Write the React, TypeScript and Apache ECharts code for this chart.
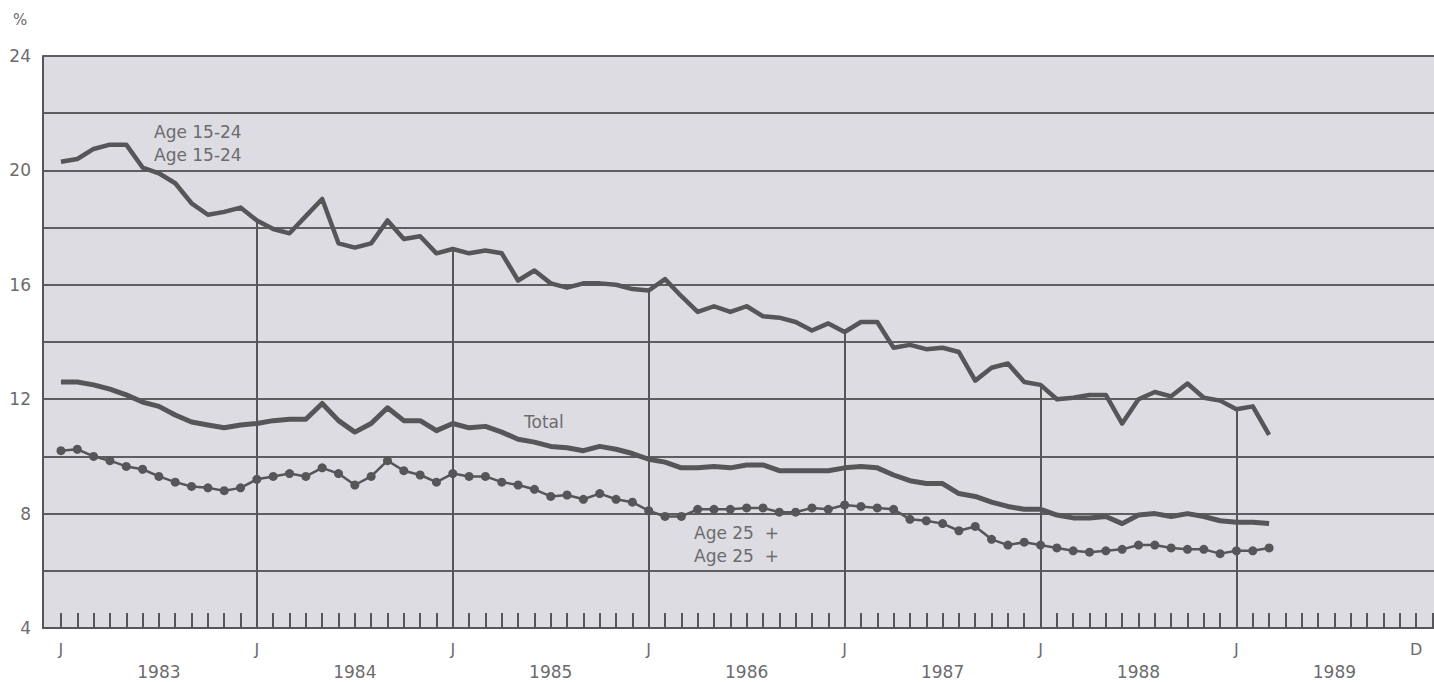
import React, { useEffect, useRef } from "react";
import * as echarts from "echarts";

// Monthly unemployment rates, Jan 1983 (index 0) to Mar 1989 (index 74)
const age1524: number[] = [
  20.3, 20.4, 20.75, 20.9, 20.9, 20.1, 19.9, 19.55, 18.85, 18.45, 18.55, 18.7,
  18.25, 17.95, 17.8, 18.4, 19.0, 17.45, 17.3, 17.45, 18.25, 17.6, 17.7, 17.1,
  17.25, 17.1, 17.2, 17.1, 16.15, 16.5, 16.05, 15.9, 16.05, 16.05, 16.0, 15.85,
  15.8, 16.2, 15.6, 15.05, 15.25, 15.05, 15.25, 14.9, 14.85, 14.7, 14.4, 14.65,
  14.35, 14.7, 14.7, 13.8, 13.9, 13.75, 13.8, 13.65, 12.65, 13.1, 13.25, 12.6,
  12.5, 12.0, 12.05, 12.15, 12.15, 11.15, 12.0, 12.25, 12.1, 12.55, 12.05, 11.95,
  11.65, 11.75, 10.75,
];
const total: number[] = [
  12.6, 12.6, 12.5, 12.35, 12.15, 11.9, 11.75, 11.45, 11.2, 11.1, 11.0, 11.1,
  11.15, 11.25, 11.3, 11.3, 11.85, 11.25, 10.85, 11.15, 11.7, 11.25, 11.25, 10.9,
  11.15, 11.0, 11.05, 10.85, 10.6, 10.5, 10.35, 10.3, 10.2, 10.35, 10.25, 10.1,
  9.9, 9.8, 9.6, 9.6, 9.65, 9.6, 9.7, 9.7, 9.5, 9.5, 9.5, 9.5,
  9.6, 9.65, 9.6, 9.35, 9.15, 9.05, 9.05, 8.7, 8.6, 8.4, 8.25, 8.15,
  8.15, 7.95, 7.85, 7.85, 7.9, 7.65, 7.95, 8.0, 7.9, 8.0, 7.9, 7.75,
  7.7, 7.7, 7.65,
];
const age25plus: number[] = [
  10.2, 10.25, 10.0, 9.85, 9.65, 9.55, 9.3, 9.1, 8.95, 8.9, 8.8, 8.9,
  9.2, 9.3, 9.4, 9.3, 9.6, 9.4, 9.0, 9.3, 9.85, 9.5, 9.35, 9.1,
  9.4, 9.3, 9.3, 9.1, 9.0, 8.85, 8.6, 8.65, 8.5, 8.7, 8.5, 8.4,
  8.1, 7.9, 7.9, 8.15, 8.15, 8.15, 8.2, 8.2, 8.05, 8.05, 8.2, 8.15,
  8.3, 8.25, 8.2, 8.15, 7.8, 7.75, 7.65, 7.4, 7.55, 7.1, 6.9, 7.0,
  6.9, 6.8, 6.7, 6.65, 6.7, 6.75, 6.9, 6.9, 6.8, 6.75, 6.75, 6.6,
  6.7, 6.7, 6.8,
];

const years: string[] = ["1983", "1984", "1985", "1986", "1987", "1988", "1989"];
const monthTicks: number[] = Array.from({ length: 85 }, (_, i) => i);
const janIndices: number[] = [0, 12, 24, 36, 48, 60, 72];
const dropLineIndices: number[] = [12, 24, 36, 48, 60, 72];
const decIndex = 83;
const yearMidIndices: number[] = years.map((_, i) => i * 12 + 6);

const FONT = "DejaVu Sans";
const INK = "#565558";
const TXT = "#6c6b6e";

export default function App() {
  const ref = useRef<HTMLDivElement>(null);
  useEffect(() => {
    if (!ref.current) return;
    const chart = echarts.init(ref.current, undefined, { renderer: "svg" });
    const toPts = (arr: number[]) => arr.map((v, i) => [i, v]);
    chart.setOption({
      animation: false,
      backgroundColor: "#ffffff",
      grid: {
        left: 43,
        top: 56,
        right: 0,
        bottom: 54,
        show: true,
        backgroundColor: "#dddce2",
        borderWidth: 0,
      },
      xAxis: [
        {
          type: "value",
          min: -1.1,
          max: 84.1,
          position: "bottom",
          splitLine: { show: false },
          axisLine: { show: true, onZero: false, lineStyle: { color: INK, width: 2 } },
          axisTick: {
            show: true,
            inside: true,
            length: 15,
            customValues: monthTicks,
            lineStyle: { color: INK, width: 2 },
          },
          axisLabel: {
            customValues: [...janIndices, decIndex],
            formatter: (v: number) => (v === decIndex ? "D" : "J"),
            color: TXT,
            fontFamily: FONT,
            fontSize: 16,
            margin: 13,
          },
        },
        {
          type: "value",
          min: -1.1,
          max: 84.1,
          position: "bottom",
          offset: 22,
          splitLine: { show: false },
          axisLine: { show: false },
          axisTick: { show: false },
          axisLabel: {
            customValues: yearMidIndices,
            formatter: (v: number) => years[Math.round((v - 6) / 12)] ?? "",
            color: TXT,
            fontFamily: FONT,
            fontSize: 17,
            margin: 13,
          },
        },
      ],
      yAxis: {
        type: "value",
        min: 4,
        max: 24,
        interval: 2,
        axisLine: { show: true, onZero: false, lineStyle: { color: INK, width: 2 } },
        axisTick: { show: false },
        splitLine: { show: true, lineStyle: { color: "#5e5d60", width: 2 } },
        axisLabel: {
          formatter: (v: number) => (v % 4 === 0 ? String(v) : ""),
          color: TXT,
          fontFamily: FONT,
          fontSize: 17,
          margin: 12,
        },
      },
      graphic: [
        { type: "text", left: 13, top: 12, style: { text: "%", fill: TXT, font: `15px ${FONT}` } },
        { type: "text", left: 154, top: 123, style: { text: "Age 15-24", fill: TXT, font: `17px ${FONT}` } },
        { type: "text", left: 154, top: 146, style: { text: "Age 15-24", fill: TXT, font: `17px ${FONT}` } },
        { type: "text", left: 524, top: 413, style: { text: "Total", fill: TXT, font: `17px ${FONT}` } },
        { type: "text", left: 694, top: 524, style: { text: "Age 25  +", fill: TXT, font: `17px ${FONT}` } },
        { type: "text", left: 694, top: 547, style: { text: "Age 25  +", fill: TXT, font: `17px ${FONT}` } },
      ],
      series: [
        {
          name: "Age 15-24",
          type: "line",
          data: toPts(age1524),
          showSymbol: false,
          symbol: "none",
          lineStyle: { color: INK, width: 4.5, join: "round" },
          z: 3,
          markLine: {
            silent: true,
            symbol: "none",
            label: { show: false },
            lineStyle: { color: INK, width: 2, type: "solid" },
            data: dropLineIndices.map((i) => [
              { coord: [i, 4] },
              { coord: [i, age1524[i]] },
            ]),
          },
        },
        {
          name: "Total",
          type: "line",
          data: toPts(total),
          showSymbol: false,
          symbol: "none",
          lineStyle: { color: INK, width: 5, join: "round" },
          z: 3,
        },
        {
          name: "Age 25+",
          type: "line",
          data: toPts(age25plus),
          symbol: "circle",
          symbolSize: 9,
          itemStyle: { color: INK },
          lineStyle: { color: INK, width: 2.5 },
          z: 3,
        },
      ],
    });
    return () => chart.dispose();
  }, []);
  return (
    <div
      ref={ref}
      style={{ position: "fixed", left: 0, top: 0, width: 1434, height: 682 }}
    />
  );
}
